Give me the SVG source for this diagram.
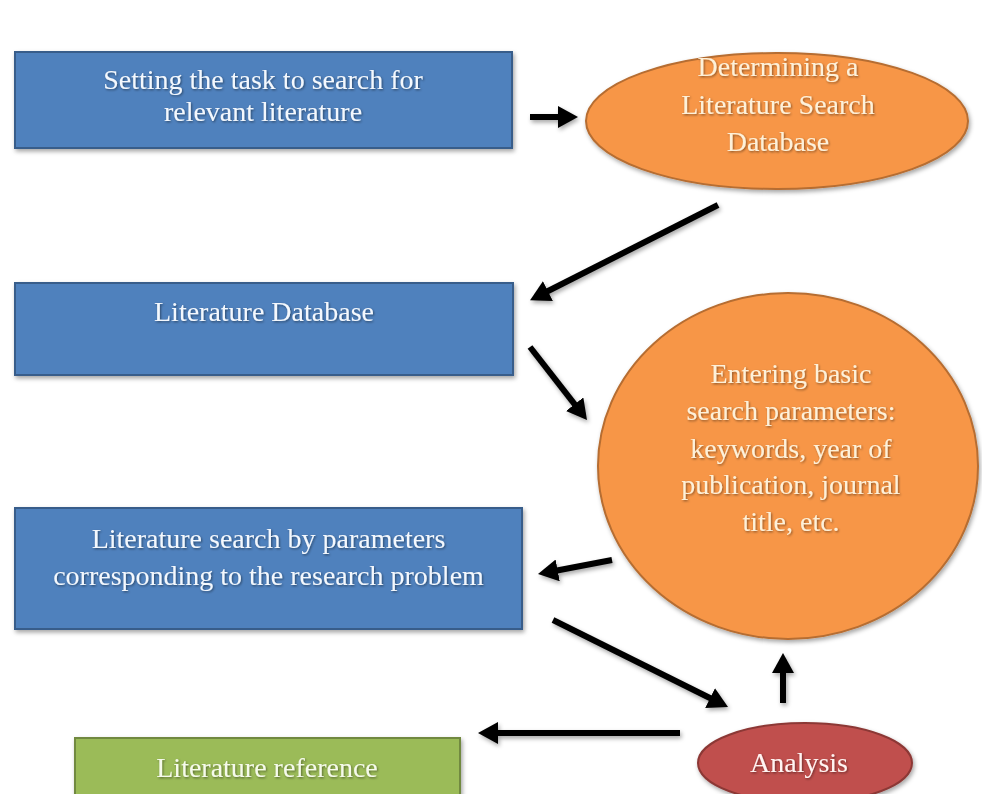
<svg xmlns="http://www.w3.org/2000/svg" width="982" height="794" viewBox="0 0 982 794">
  <defs>
    <filter id="shadow" x="-10%" y="-10%" width="125%" height="130%">
      <feDropShadow dx="1.5" dy="2.5" stdDeviation="2" flood-color="#000" flood-opacity="0.35"/>
    </filter>
    <filter id="textShadow" x="-5%" y="-20%" width="110%" height="150%">
      <feDropShadow dx="1" dy="1.2" stdDeviation="0.8" flood-color="#000" flood-opacity="0.45"/>
    </filter>
    <marker id="arrowhead" markerUnits="userSpaceOnUse" markerWidth="20" markerHeight="22" refX="2" refY="11" orient="auto">
      <path d="M0,0 L20,11 L0,22 z" fill="#000"/>
    </marker>
  </defs>
  <style>
    .box-blue { fill: #4F81BD; stroke: #385D8A; stroke-width: 2; }
    .box-green { fill: #9BBB59; stroke: #71893F; stroke-width: 2; }
    .oval-orange { fill: #F79646; stroke: #B66D31; stroke-width: 2; }
    .oval-red { fill: #C0504D; stroke: #8C3836; stroke-width: 2; }
    text { font-family: "Liberation Serif", "Times New Roman", serif; font-size: 28px; text-anchor: middle; }
    .t-blue { fill: #F4F8FD; }
    .t-orange { fill: #FDF1DA; }
    .t-green { fill: #F6FAEC; }
    .t-red { fill: #FFF4F2; }
    .link { stroke: #000; stroke-width: 6; fill: none; marker-end: url(#arrowhead); }
  </style>

  <rect width="982" height="794" fill="#FFFFFF"/>

  <!-- connectors -->
  <g id="connectors" filter="url(#shadow)">
    <line class="link" x1="530" y1="117" x2="560" y2="117"/>
    <line class="link" x1="718" y1="205" x2="546.1" y2="292"/>
    <line class="link" x1="530" y1="347" x2="575.9" y2="405.8"/>
    <line class="link" x1="612" y1="560" x2="555.7" y2="570.7"/>
    <line class="link" x1="553" y1="620" x2="711.9" y2="699"/>
    <line class="link" x1="783" y1="703" x2="783" y2="671"/>
    <line class="link" x1="680" y1="733" x2="496" y2="733"/>
  </g>

  <!-- Setting the task -->
  <g id="node-task">
    <rect class="box-blue" x="15" y="52" width="497" height="96" filter="url(#shadow)"/>
    <g class="t-blue" filter="url(#textShadow)">
      <text x="263" y="89">Setting the task to search for</text>
      <text x="263" y="121">relevant literature</text>
    </g>
  </g>

  <!-- Determining a Literature Search Database -->
  <g id="node-determining">
    <ellipse class="oval-orange" cx="777" cy="121" rx="191" ry="68" filter="url(#shadow)"/>
    <g class="t-orange" filter="url(#textShadow)">
      <text x="778" y="76">Determining a</text>
      <text x="778" y="114">Literature Search</text>
      <text x="778" y="151">Database</text>
    </g>
  </g>

  <!-- Literature Database -->
  <g id="node-database">
    <rect class="box-blue" x="15" y="283" width="498" height="92" filter="url(#shadow)"/>
    <g class="t-blue" filter="url(#textShadow)">
      <text x="264" y="321">Literature Database</text>
    </g>
  </g>

  <!-- Entering basic search parameters -->
  <g id="node-parameters">
    <ellipse class="oval-orange" cx="788" cy="466" rx="190" ry="173" filter="url(#shadow)"/>
    <g class="t-orange" filter="url(#textShadow)">
      <text x="791" y="383">Entering basic</text>
      <text x="791" y="420">search parameters:</text>
      <text x="791" y="458">keywords, year of</text>
      <text x="791" y="494">publication, journal</text>
      <text x="791" y="531">title, etc.</text>
    </g>
  </g>

  <!-- Literature search by parameters -->
  <g id="node-search">
    <rect class="box-blue" x="15" y="508" width="507" height="121" filter="url(#shadow)"/>
    <g class="t-blue" filter="url(#textShadow)">
      <text x="268.5" y="548">Literature search by parameters</text>
      <text x="268.5" y="585">corresponding to the research problem</text>
    </g>
  </g>

  <!-- Literature reference -->
  <g id="node-reference">
    <rect class="box-green" x="75" y="738" width="385" height="70" filter="url(#shadow)"/>
    <g class="t-green" filter="url(#textShadow)">
      <text x="267" y="777">Literature reference</text>
    </g>
  </g>

  <!-- Analysis -->
  <g id="node-analysis">
    <ellipse class="oval-red" cx="805" cy="763" rx="107" ry="40" filter="url(#shadow)"/>
    <g class="t-red" filter="url(#textShadow)">
      <text x="799" y="772">Analysis</text>
    </g>
  </g>
</svg>
